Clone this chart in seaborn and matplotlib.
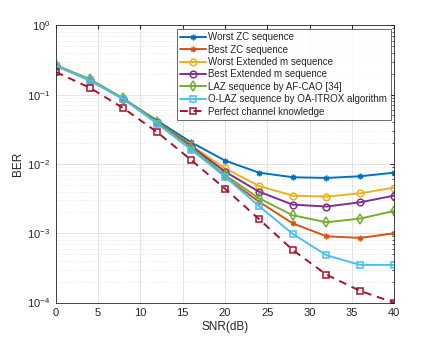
import numpy as np
import pandas as pd
import matplotlib as mpl
mpl.use("Agg")
import matplotlib.pyplot as plt
import seaborn as sns

snr = [0, 4, 8, 12, 16, 20, 24, 28, 32, 36, 40]

worst_zc = [0.262, 0.163, 0.0866, 0.042, 0.0205, 0.0112, 0.0075, 0.00643, 0.00628, 0.00664, 0.0075]
best_zc = [0.262, 0.163, 0.087, 0.040, 0.0188, 0.0065, 0.00286, 0.00139, 0.000905, 0.000857, 0.001]
worst_ext_m = [0.262, 0.163, 0.087, 0.040, 0.0185, 0.00866, 0.00482, 0.00349, 0.00338, 0.00377, 0.00456]
best_ext_m = [0.262, 0.163, 0.087, 0.040, 0.0180, 0.00776, 0.00399, 0.00259, 0.00243, 0.0028, 0.00349]
laz_afcao = [0.265, 0.168, 0.088, 0.040, 0.0172, 0.00694, 0.0032, 0.00182, 0.00144, 0.00163, 0.0021]
olaz_itrox = [0.26, 0.16, 0.086, 0.038, 0.0161, 0.00657, 0.00248, 0.00098, 0.000482, 0.000349, 0.00035]
perfect = [0.212, 0.126, 0.0635, 0.0286, 0.0114, 0.0044, 0.00161, 0.000575, 0.000253, 0.000147, 0.0001]

labels = [
    "Worst ZC sequence",
    "Best ZC sequence",
    "Worst Extended m sequence",
    "Best Extended m sequence",
    "LAZ sequence by AF-CAO [34]",
    "O-LAZ sequence by OA-ITROX algorithm",
    "Perfect channel knowledge",
]
series = [worst_zc, best_zc, worst_ext_m, best_ext_m, laz_afcao, olaz_itrox, perfect]
colors = ["#0072BD", "#D95319", "#EDB120", "#7E2F8E", "#77AC30", "#4DBEEE", "#A2142F"]
markers = [(6, 2, 0), (6, 2, 0), "o", "o", "d", "s", "s"]
msizes = [4, 4, 4.8, 4.8, 4.8, 4.3, 4.3]
dashes = ["-", "-", "-", "-", "-", "-", (0, (4, 3))]

sns.set_style("whitegrid")
plt.rcParams["font.family"] = ["Liberation Sans", "DejaVu Sans"]

fig = plt.figure(figsize=(4.36, 3.4), dpi=100)
ax = fig.add_axes([0.128, 0.11, 0.776, 0.8156])

for lab, vals, c, m, ms, ls in zip(labels, series, colors, markers, msizes, dashes):
    df = pd.DataFrame({"snr": snr, "ber": vals})
    sns.lineplot(data=df, x="snr", y="ber", ax=ax, color=c, marker=m,
                 markersize=ms, markerfacecolor="none", markeredgecolor=c,
                 markeredgewidth=1.1, linewidth=1.4, linestyle=ls, label=lab)

ax.set_yscale("log")
ax.set_xlim(0, 40)
ax.set_ylim(1e-4, 1)
ax.set_xticks([0, 5, 10, 15, 20, 25, 30, 35, 40])
ax.set_xlabel("SNR(dB)", fontsize=8.5, labelpad=2)
ax.set_ylabel("BER", fontsize=8.5, labelpad=2)
ax.tick_params(axis="both", which="both", direction="in", labelsize=8,
               top=True, right=True, length=3, pad=4, colors="#262626")
ax.tick_params(which="minor", length=1.5)
ax.grid(True, which="major", color="#dedede", linewidth=0.6, linestyle="-")
ax.grid(True, which="minor", axis="y", color="#dedede", linewidth=0.5, linestyle=":")
for sp in ax.spines.values():
    sp.set_color("#262626")
    sp.set_linewidth(0.6)

leg = ax.legend(loc="upper right", fontsize=7, frameon=True, fancybox=False,
                borderpad=0.35, labelspacing=0.25, handlelength=2.6,
                handletextpad=0.3, borderaxespad=0.35)
leg.get_frame().set_edgecolor("#262626")
leg.get_frame().set_linewidth(0.6)

fig.savefig("out.png", dpi=100)
